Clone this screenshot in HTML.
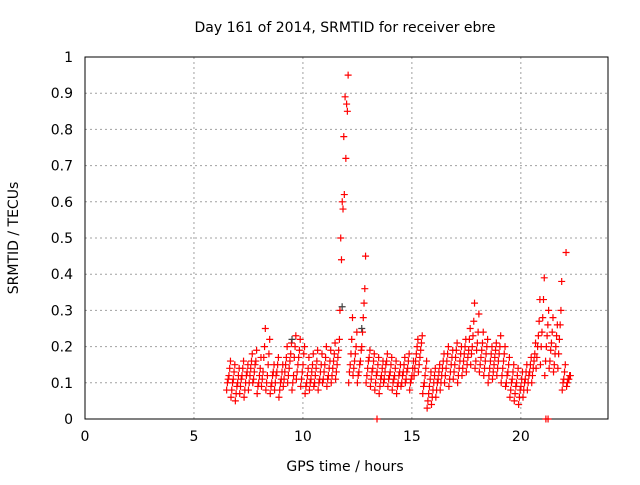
<!DOCTYPE html>
<html><head><meta charset="utf-8"><style>
body{margin:0;background:#fff;}
svg text{font-family:"DejaVu Sans","Liberation Sans",sans-serif;font-size:14px;fill:#000;}
</style></head><body>
<svg id="chart" width="640" height="480" xmlns="http://www.w3.org/2000/svg">
<rect width="640" height="480" fill="#fff"/>
<g id="grid"></g>
<rect x="85" y="57" width="523" height="362" fill="none" stroke="#000"/>
<g id="ticks"></g>
<g id="marks"></g>
<text x="345" y="32" text-anchor="middle">Day 161 of 2014, SRMTID for receiver ebre</text>
<text x="345" y="471" text-anchor="middle">GPS time / hours</text>
<text transform="translate(18,238) rotate(-90)" text-anchor="middle">SRMTID / TECUs</text>
</svg>
<script>
const xTicks=[0,5,10,15,20];
const yTicks=[0,0.1,0.2,0.3,0.4,0.5,0.6,0.7,0.8,0.9,1];
const yTickLabels=["0","0.1","0.2","0.3","0.4","0.5","0.6","0.7","0.8","0.9","1"];
const times=[6.5,6.7,6.9,7.1,7.3,7.5,7.7,7.9,8.1,8.3,8.5,8.7,8.9,9.1,9.3,9.5,9.7,9.9,10.1,10.3,10.5,10.7,10.9,11.1,11.3,11.5,11.7,11.9,12.1,12.3,12.5,12.7,12.9,13.1,13.3,13.5,13.7,13.9,14.1,14.3,14.5,14.7,14.9,15.1,15.3,15.5,15.7,15.9,16.1,16.3,16.5,16.7,16.9,17.1,17.3,17.5,17.7,17.9,18.1,18.3,18.5,18.7,18.9,19.1,19.3,19.5,19.7,19.9,20.1,20.3,20.5,20.7,20.9,21.1,21.3,21.5,21.7,21.9,22.1];
const seriesA=[.08,.06,.05,.07,.06,.08,.1,.07,.09,.08,.07,.08,.06,.09,.1,.08,.11,.09,.07,.08,.09,.08,.1,.09,.1,.11,.3,.62,.1,.12,.1,.2,.1,.09,.08,.07,.1,.09,.08,.07,.09,.1,.08,.12,.13,.07,.03,.04,.06,.08,.1,.09,.11,.1,.12,.13,.15,.14,.13,.12,.1,.11,.12,.1,.09,.06,.05,.04,.06,.08,.1,.14,.15,.12,.14,.13,.14,.08,.09];
const seriesB=[.11,.1,.09,.11,.1,.12,.13,.1,.13,.12,.1,.12,.1,.13,.14,.12,.15,.13,.1,.11,.12,.11,.13,.12,.14,.15,.44,.72,.15,.16,.13,.28,.14,.13,.12,.11,.13,.12,.11,.1,.12,.13,.11,.16,.17,.1,.07,.08,.1,.12,.14,.13,.15,.14,.16,.17,.2,.19,.17,.16,.14,.15,.16,.14,.12,.1,.09,.08,.1,.12,.14,.2,.24,.2,.19,.18,.22,.11,.11];
const seriesC=[.14,.13,.12,.14,.13,.16,.16,.14,.2,.18,.13,.15,.13,.17,.18,.2,.19,.18,.14,.15,.16,.15,.17,.16,.18,.19,.58,.85,.22,.2,.16,.36,.17,.16,.15,.14,.16,.15,.14,.13,.15,.16,.14,.2,.21,.14,.11,.12,.13,.16,.18,.17,.19,.18,.2,.22,.27,.24,.21,.2,.18,.19,.2,.18,.15,.13,.12,.11,.13,.15,.18,.27,.33,.26,.24,.23,.3,.15,.12];
const seriesD=[.16,.15,.14,.16,.15,.18,.19,.17,.25,.22,.15,.17,.15,.2,.21,.23,.22,.2,.17,.18,.19,.18,.2,.19,.21,.22,.78,.95,.28,.24,.19,.45,.19,.18,.17,.16,.18,.17,.16,.15,.17,.18,.16,.22,.23,.16,.13,.14,.15,.18,.2,.19,.21,.2,.22,.25,.32,.29,.24,.22,.2,.21,.23,.2,.17,.15,.14,.13,.15,.17,.21,.33,.39,.3,.28,.26,.38,.46,.12];
const seriesE=[.1,.08,.07,.09,.08,.1,.11,.09,.11,.1,.09,.1,.08,.11,.12,.1,.13,.11,.09,.1,.1,.1,.11,.11,.12,.13,.5,.89,.13,.14,.12,.24,.12,.11,.1,.09,.11,.11,.1,.09,.1,.11,.1,.14,.15,.09,.05,.06,.08,.1,.12,.11,.13,.12,.14,.15,.18,.16,.15,.14,.12,.13,.14,.12,.1,.08,.07,.06,.08,.1,.12,.17,.2,.16,.16,.15,.18,.1,.1];
const seriesF=[.12,.11,.1,.12,.12,.14,.15,.12,.17,.15,.12,.13,.11,.15,.16,.17,.17,.15,.12,.13,.14,.13,.15,.14,.16,.17,.6,.87,.18,.18,.15,.32,.16,.14,.13,.12,.15,.13,.12,.12,.13,.14,.12,.18,.19,.12,.09,.1,.11,.14,.16,.15,.17,.16,.18,.19,.23,.21,.19,.18,.16,.17,.18,.16,.13,.11,.1,.09,.11,.13,.16,.23,.28,.23,.21,.2,.26,.13,.11];
const zeroTimes=[13.4,21.15,21.25];
const zeroVals=[0,0,0];
const grayTimes=[11.8,12.7,9.5];
const grayVals=[0.31,0.25,0.22];
const NS="http://www.w3.org/2000/svg";
const X0=85,X1=608,Y0=419,Y1=57;
const xs=t=>X0+t*(X1-X0)/24;
const ys=v=>Y0-v*(Y0-Y1);
const grid=document.getElementById('grid'),ticks=document.getElementById('ticks'),marks=document.getElementById('marks');
function mk(tag,at,parent){const e=document.createElementNS(NS,tag);for(const k in at)e.setAttribute(k,at[k]);parent.appendChild(e);return e;}
xTicks.forEach((t,i)=>{
 const x=xs(t);
 if(t>0){const g=mk('line',{x1:x,x2:x,y1:Y1,y2:Y0,stroke:'#a0a0a0','stroke-dasharray':'2,3'},grid);
 
 }
 const tx=mk('text',{x:x,y:441,'text-anchor':'middle'},ticks);tx.textContent=String(t);
 
 
});
yTicks.forEach((v,i)=>{
 const y=ys(v);
 if(v>0&&v<1){const g=mk('line',{x1:X0,x2:X1,y1:y,y2:y,stroke:'#a0a0a0','stroke-dasharray':'2,3'},grid);
 
 }
 const tx=mk('text',{x:73,y:y+5,'text-anchor':'end'},ticks);tx.textContent=yTickLabels[i];
 
 
});
function plus(t,v,color){
 const x=xs(t),y=ys(v);
 const p=mk('path',{d:`M${x-3.5},${y}h7M${x},${y-3.5}v7`,stroke:color,'stroke-width':1.2,fill:'none'},marks);
 
 
}
[seriesA,seriesE,seriesB,seriesF,seriesC,seriesD].forEach((s,k)=>{
 s.forEach((v,i)=>plus(times[i]+k*0.035,v,'#ff0000'));
});
grayTimes.forEach((t,i)=>plus(t,grayVals[i],'#404040'));
zeroTimes.forEach((t,i)=>plus(t,zeroVals[i],'#ff0000'));
</script>
</body></html>
